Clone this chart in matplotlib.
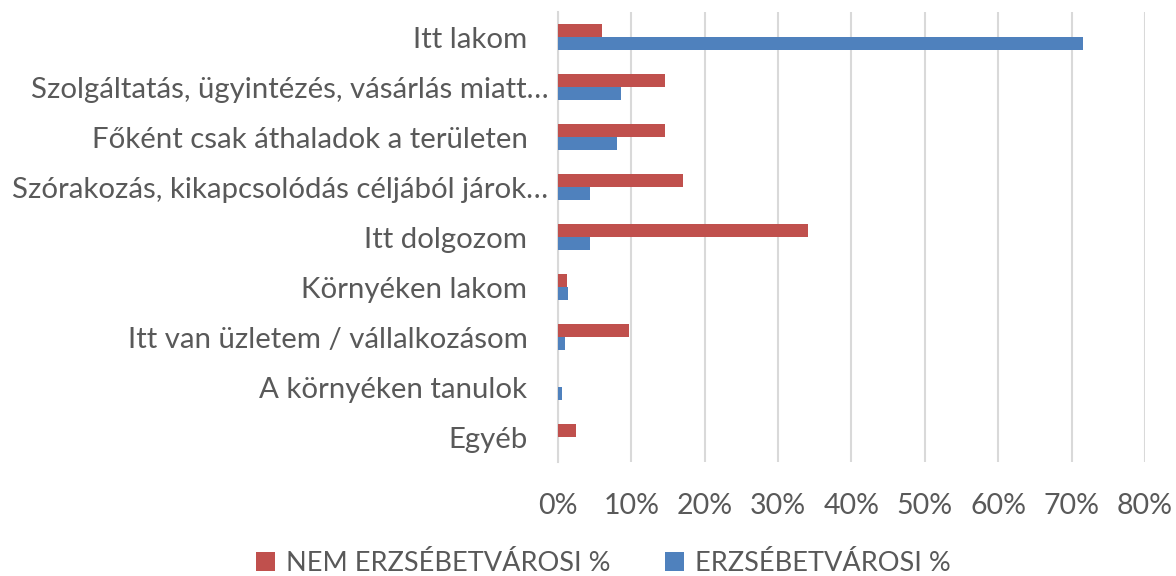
import matplotlib
matplotlib.use("Agg")
import matplotlib.pyplot as plt
import matplotlib.transforms as mtransforms
from matplotlib.ticker import FuncFormatter, MultipleLocator
import numpy as np

categories = [
    "Itt lakom",
    "Szolgáltatás, ügyintézés, vásárlás miatt…",
    "Főként csak áthaladok a területen",
    "Szórakozás, kikapcsolódás céljából járok…",
    "Itt dolgozom",
    "Környéken lakom",
    "Itt van üzletem / vállalkozásom",
    "A környéken tanulok",
    "Egyéb",
]
nem_erzsebetvarosi = [6.0, 14.6, 14.6, 17.0, 34.1, 1.2, 9.7, 0.0, 2.4]
erzsebetvarosi = [71.5, 8.65, 8.0, 4.3, 4.3, 1.3, 0.95, 0.6, 0.0]
series_labels = ["NEM ERZSÉBETVÁROSI %", "ERZSÉBETVÁROSI %"]

RED = "#c0504d"
BLUE = "#4f81bd"
TXT = "#595959"
GRID = "#d9d9d9"

plt.rcParams["font.family"] = ["Lato", "DejaVu Sans"]

fig = plt.figure(figsize=(11.76, 5.76), dpi=100)
ax = fig.add_axes([0.4745, 0.198, 0.4991, 0.781])

y = np.arange(len(categories))
h = 0.26
ax.barh(y - h / 2, nem_erzsebetvarosi, height=h, color=RED, label=series_labels[0], zorder=3)
ax.barh(y + h / 2, erzsebetvarosi, height=h, color=BLUE, label=series_labels[1], zorder=3)

ax.set_xlim(0, 80)
ax.set_ylim(len(categories) - 0.5, -0.5)
ax.xaxis.set_major_locator(MultipleLocator(10))
ax.xaxis.set_major_formatter(FuncFormatter(lambda v, p: f"{v:.0f}%"))
ax.grid(axis="x", color=GRID, linewidth=1.5, zorder=0)

ax.set_yticks(y)
ax.set_yticklabels(categories)
ax.tick_params(axis="y", length=0, labelsize=21.2, colors=TXT, pad=22)
ax.tick_params(axis="x", length=0, labelsize=20.5, colors=TXT, pad=22)

# put the middle of the capitals on the category line
shift = mtransforms.ScaledTranslation(0, -0.106, fig.dpi_scale_trans)
for lbl in ax.get_yticklabels():
    lbl.set_verticalalignment("baseline")
    lbl.set_transform(lbl.get_transform() + shift)
    # the truncated labels spill a little past the others
    if lbl.get_text().endswith("…"):
        lbl.set_x(lbl.get_position()[0] + 21 / 1176 / 0.4991)

for side in ("top", "right", "bottom"):
    ax.spines[side].set_visible(False)
ax.spines["left"].set_color(GRID)
ax.spines["left"].set_linewidth(1.5)

fig.legend(loc="center", bbox_to_anchor=(0.513, 0.022), ncol=2, frameon=False,
           fontsize=19.5, labelcolor=TXT, handlelength=0.7, handleheight=0.7,
           handletextpad=0.4, columnspacing=2.0)

fig.savefig("out.png", dpi=100)
